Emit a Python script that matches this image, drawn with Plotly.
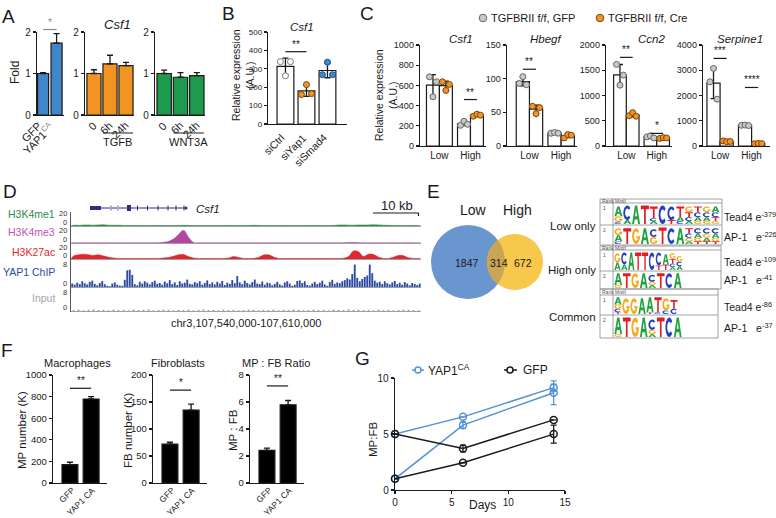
import numpy as np
import plotly.graph_objects as go

W, H = 776, 518
FONT = "Liberation Sans, Arial, Helvetica, sans-serif"
INK = "#1a1a1a"

# ======================= DATA =======================
# Panel A
a_gfp_labels = ["GFP", "YAP1<sup><span style='color:#8a8a8a'>CA</span></sup>"]
a_gfp_values = [1.0, 1.73]
a_gfp_err = [0.02, 0.23]
a_gfp_sig = 2.06
a_time_labels = ["0", "6h", "24h"]
a_tgfb_values = [1.0, 1.23, 1.19]
a_tgfb_err = [0.09, 0.21, 0.08]
a_wnt_values = [1.0, 0.91, 0.95]
a_wnt_err = [0.08, 0.11, 0.07]
a_ticks = [0, 1, 2]
a_groups = ["TGFB", "WNT3A"]

# Panel B
b_labels = ["siCtrl", "siYap1", "siSmad4"]
b_points = [[339, 262, 339], [160, 214, 165], [268, 336, 268]]
b_ticks = [0, 100, 200, 300, 400, 500]
b_sig = 393

# Panel C
c_groups = ["Low", "High"]
c_legend = ["TGFBRII f/f, GFP", "TGFBRII f/f, Cre"]
csf1_gfp = [[685, 487, 636], [205, 245, 215]]
csf1_cre = [[636, 550, 610], [295, 315, 305]]
hbegf_gfp = [[93, 103, 91], [19, 20, 19]]
hbegf_cre = [[59, 48, 57], [12, 17, 16]]
ccn2_gfp = [[1616, 1205, 1404], [180, 200, 160]]
ccn2_cre = [[600, 660, 590], [150, 165, 160]]
serp_gfp = [[2543, 3073, 1854], [820, 830, 810]]
serp_cre = [[200, 170, 180], [90, 100, 95]]
csf1_ticks = [0, 200, 400, 600, 800, 1000]
hbegf_ticks = [0, 50, 100, 150]
ccn2_ticks = [0, 500, 1000, 1500, 2000]
serp_ticks = [0, 1000, 2000, 3000, 4000]
csf1_sig = [(1, 460, "**")]
hbegf_sig = [(0, 114, "**")]
ccn2_sig = [(0, 1755, "**"), (1, 250, "*")]
serp_sig = [(0, 3470, "***"), (1, 2318, "****")]

# Panel D (coverage tracks, 70 kb window)
h3k4me1 = [1.2, 1.0, 1.4, 1.6, 1.2, 1.5, 1.8, 1.3, 1.0, 1.2,
           0.8, 0.7, 0.9, 0.8, 0.7, 0.6, 0.8, 0.9, 0.7, 0.8,
           0.7, 0.9, 1.0, 0.8, 0.7, 0.6, 0.7, 0.8, 0.6, 0.7,
           0.8, 0.9, 0.7, 0.6, 0.7, 0.8, 1.0, 0.9, 0.8, 0.7,
           0.6, 0.7, 0.8, 0.7, 0.6, 0.6, 0.7, 0.8, 0.9, 0.8,
           0.7, 0.6, 0.9, 1.4, 1.6, 1.3, 1.2, 1.5, 1.4, 1.6,
           1.8, 1.5, 1.2, 1.0, 0.8, 0.7, 0.6, 0.7, 0.8, 0.7]
h3k4me3 = [0.2, 0.2, 0.2, 0.3, 0.2, 0.2, 0.2, 0.2, 0.2, 0.2,
           0.2, 0.2, 0.2, 0.2, 0.2, 0.3, 0.3, 0.5, 1.0, 2.5,
           6.0, 13.0, 19.5, 9.0, 0.8, 0.3, 0.2, 0.2, 0.2, 0.2,
           0.2, 0.2, 0.2, 0.2, 0.2, 0.2, 0.2, 0.2, 0.2, 0.2,
           0.2, 0.2, 0.2, 0.2, 0.2, 0.2, 0.2, 0.2, 0.2, 0.2,
           0.2, 0.2, 0.2, 0.2, 0.3, 0.6, 0.8, 0.5, 0.2, 0.2,
           0.2, 0.2, 0.2, 0.2, 0.2, 0.2, 0.2, 0.2, 0.2, 0.2]
h3k27ac = [5, 7, 8, 7, 6, 7, 5, 3, 1.5, 1,
           0.8, 0.8, 1, 1, 0.8, 0.8, 1, 1, 1.5, 2.5,
           4.5, 7, 7.5, 4, 1.5, 1, 0.8, 0.8, 1, 1,
           1, 1.5, 4, 2.5, 1, 0.8, 1, 2.5, 6.5, 7,
           3.5, 1, 0.8, 0.8, 1, 0.8, 0.8, 1, 1, 0.8,
           0.8, 1, 1, 1, 1.2, 4, 13.5, 12, 4, 8,
           7.5, 3, 1, 1, 3, 6, 5.5, 2, 1, 0.8]
yap1_chip = [1.2, 0.8, 1.5, 1.0, 2.0, 1.3, 0.9, 1.8, 2.2, 1.1, 0.6, 1.4, 2.1, 1.0, 0.4, 0.3, 1.2, 1.6, 0.8, 0.5,
             0.4, 2.5, 5.8, 6.0, 4.2, 1.0, 0.6, 1.8, 1.2, 2.0, 1.5, 0.9, 1.7, 2.2, 1.1, 1.4, 0.8, 1.9, 1.3, 2.4,
             1.0, 1.6, 0.7, 2.0, 1.2, 1.5, 2.6, 1.1, 0.9, 1.7, 1.3, 2.0, 0.8, 1.4, 2.3, 1.0, 1.6, 0.9, 1.8, 1.2,
             2.1, 0.7, 1.5, 1.1, 2.4, 1.3, 3.8, 1.6, 1.0, 2.2, 1.4, 0.9, 1.7, 2.6, 1.2, 1.0, 1.9, 0.8, 1.5, 1.3,
             0.6, 1.1, 1.8, 0.9, 0.5, 1.6, 2.0, 1.2, 0.4, 0.8, 2.1, 2.3, 1.4, 2.0, 0.7, 0.5, 1.2, 1.8, 1.0, 1.5,
             2.2, 0.9, 0.4, 1.7, 2.5, 1.1, 1.6, 1.3, 2.0, 2.4, 3.0, 2.6, 4.5, 7.8, 3.2, 2.0, 2.8, 3.5, 4.0, 7.8,
             4.8, 2.2, 1.5, 1.8, 1.0, 2.0, 1.3, 0.9, 1.6, 2.1, 1.0, 1.5, 0.8, 1.7, 1.2, 0.6, 1.4, 1.0, 0.7, 1.2]
input_chip = [0.4, 0.6, 0.3, 0.5, 0.7, 0.4, 0.5, 0.3, 0.6, 0.4, 0.5, 0.3, 0.6, 0.4, 0.5, 0.7, 0.3, 0.4, 0.6, 0.5,
              0.3, 0.5, 0.4, 0.6, 0.3, 0.5, 0.7, 0.4, 0.5, 0.3, 0.6, 0.4, 0.5, 0.3, 0.4, 0.6, 0.5, 0.3, 0.5, 0.4,
              0.6, 0.3, 0.5, 0.4, 0.7, 0.5, 0.3, 0.4, 0.6, 0.4, 0.5, 0.3, 0.6, 0.5, 0.4, 0.7, 0.5, 0.6, 0.4, 0.5,
              0.3, 0.6, 0.4, 0.5, 0.3, 0.4, 0.6, 0.5, 0.4, 0.3]
track_names = ["H3K4me1", "H3K4me3", "H3K27ac", "YAP1 ChIP", "Input"]
gene_name = "Csf1"
gene_span_kb = [3.8, 23.0]
gene_thick_exons_kb = [[3.8, 6.0], [11.2, 12.0]]
gene_light_exons_kb = [8.0, 9.4]
gene_small_exons_kb = [13.3, 15.3, 17.4, 19.4, 21.0, 22.6]
locus_label = "chr3,107,540,000-107,610,000"

# Panel E
venn_sets = ["Low", "High"]
venn_counts = [1847, 314, 672]
motif_groups = ["Low only", "High only", "Common"]
motif_names = ["Tead4", "AP-1"]
motif_exponents = [[-379, -226], [-109, -41], [-86, -37]]
logo_low_tead4 = ["A.5 G.3 C.1", "C.75 A.2", "A.95", "T.95", "T.6 C.15 A.15", "C.95", "C.7 T.2",
                  "T.55 A.2 C.15", "G.3 T.25 C.2 A.15", "T.3 C.25 A.2 G.15", "G.3 C.25 A.2 G.15", "A.3 C.25 T.2 G.15"]
logo_low_ap1 = ["G.4 A.35 C.15", "T.9", "G.9", "A.9", "C.45 G.4", "T.95", "C.9", "A.9",
                "T.3 C.25 G.2 A.15", "C.3 A.25 G.2 T.15", "C.3 G.25 A.2 T.15", "C.3 A.25 G.2 T.15"]
logo_high_tead4 = ["G.5 A.4", "C.65 A.3", "A.95", "T.95", "T.95", "C.95", "C.7 T.25", "A.55 T.3",
                   "G.3 T.25 C.2 A.15", "G.3 C.25 A.2"]
logo_high_ap1 = ["A.75 G.2", "T.95", "G.95", "A.95", "C.45 G.2 A.2", "T.95", "C.95", "A.95"]
logo_common_tead4 = ["A.4 G.25 C.2 T.1", "G.9", "G.9", "A.9", "A.85 T.1", "T.85 C.1", "G.7 C.2", "T.5 C.3"]
logo_common_ap1 = ["A.8 G.15", "T.95", "G.95", "A.95", "C.5 G.2 A.15", "T.95", "C.95", "A.95"]

# Panel F
f_labels = ["GFP", "YAP1 CA"]
mp_values = [170, 778]
mp_err = [22, 22]
fb_values = [72, 135]
fb_err = [3.5, 11]
ratio_values = [2.41, 5.79]
ratio_err = [0.17, 0.32]
mp_ticks = [0, 200, 400, 600, 800, 1000]
fb_ticks = [0, 50, 100, 150, 200]
ratio_ticks = [0, 2, 4, 6, 8]
f_sig = [877, 172, 7.19]
f_sig_text = ["**", "*", "**"]
f_titles = ["Macrophages", "Fibroblasts", "MP : FB Ratio"]
f_ytitles = ["MP number (K)", "FB number (K)", "MP : FB"]

# Panel G
g_days = [0, 6, 14]
g_yap_a = [5.0, 6.53, 9.14]
g_yap_a_err = [None, None, 0.3]
g_yap_b = [1.0, 5.79, 8.69]
g_yap_b_err = [None, 0.28, 1.06]
g_gfp_a = [5.0, 3.71, 6.26]
g_gfp_a_err = [None, 0.3, None]
g_gfp_b = [1.0, 2.43, 4.99]
g_gfp_b_err = [None, None, 0.8]
g_xticks = [0, 5, 10, 15]
g_yticks = [0, 5, 10]
g_series = ["YAP1<sup>CA</sup>", "GFP"]

# ======================= HELPERS =======================
fig = go.Figure()
AX, lay, shapes, annos = {}, {}, [], []


def P(x):
    return x / W


def Q(y):
    return 1 - y / H


def add_axes(key, x0, x1, yt, yb, xr, yr):
    k = len(AX) + 1
    s = "" if k == 1 else str(k)
    base = dict(showgrid=False, zeroline=False, showline=False, ticks="", showticklabels=False,
                fixedrange=True, automargin=False)
    lay["xaxis" + s] = dict(base, domain=[P(x0), P(x1)], range=xr, anchor="y" + s)
    lay["yaxis" + s] = dict(base, domain=[Q(yb), Q(yt)], range=yr, anchor="x" + s)
    AX[key] = dict(x="x" + s, y="y" + s, xa=lay["xaxis" + s], ya=lay["yaxis" + s], g=(x0, x1, yt, yb, xr, yr))
    return AX[key]


def px_x(key, v):
    x0, x1, yt, yb, xr, yr = AX[key]["g"]
    return x0 + (v - xr[0]) / (xr[1] - xr[0]) * (x1 - x0)


def px_y(key, v):
    x0, x1, yt, yb, xr, yr = AX[key]["g"]
    return yb - (v - yr[0]) / (yr[1] - yr[0]) * (yb - yt)


def txt(x, y, s, size=11, color=INK, xa="center", ya="middle", angle=0):
    annos.append(dict(x=P(x), y=Q(y), xref="paper", yref="paper", text=s, showarrow=False,
                      font=dict(family=FONT, size=size, color=color), xanchor=xa, yanchor=ya,
                      textangle=angle, borderpad=0))


def line(x0, y0, x1, y1, color=INK, w=1.2):
    shapes.append(dict(type="line", xref="paper", yref="paper", x0=P(x0), y0=Q(y0), x1=P(x1), y1=Q(y1),
                       line=dict(color=color, width=w)))


def rect(x0, y0, x1, y1, fill="rgba(0,0,0,0)", lc=None, w=0):
    shapes.append(dict(type="rect", xref="paper", yref="paper", x0=P(x0), y0=Q(y1), x1=P(x1), y1=Q(y0),
                       fillcolor=fill, line=dict(color=lc or fill, width=w)))


def circle(cx, cy, r, fill, lc=None, w=0):
    shapes.append(dict(type="circle", xref="paper", yref="paper", x0=P(cx - r), x1=P(cx + r),
                       y0=Q(cy + r), y1=Q(cy - r), fillcolor=fill, line=dict(color=lc or fill, width=w)))


def poly(pts, fill):
    d = "M " + " L ".join("%.5f,%.5f" % (P(x), Q(y)) for x, y in pts) + " Z"
    shapes.append(dict(type="path", xref="paper", yref="paper", path=d, fillcolor=fill,
                       line=dict(width=0), layer="above"))


def style_y(key, ticks, size=10):
    AX[key]["ya"].update(showline=True, linecolor=INK, linewidth=1.3, ticks="outside", ticklen=3,
                         tickwidth=1.2, tickcolor=INK, tickmode="array", tickvals=ticks,
                         showticklabels=True, tickfont=dict(family=FONT, size=size, color=INK))


def style_x(key, vals, labels, size=10):
    AX[key]["xa"].update(showline=True, linecolor=INK, linewidth=1.3, tickmode="array", tickvals=vals,
                         ticktext=labels, showticklabels=True, tickangle=0,
                         tickfont=dict(family=FONT, size=size, color=INK))


def rot_labels(key, vals, labels, dx, dy, size=11):
    # category labels slanted at 45 degrees, ending just under each bar
    AX[key]["xa"].update(showline=True, linecolor=INK, linewidth=1.3)
    yb = AX[key]["g"][3]
    for v, lab in zip(vals, labels):
        txt(px_x(key, v) + dx, yb + dy, lab, size=size, xa="right", ya="top", angle=-45)


def bars(key, xs, ys, err, fill, width, upper_only=False, lw=1.2):
    e = dict(type="data", array=err, visible=True, color=INK, thickness=1.3, width=3)
    if upper_only:
        e["symmetric"] = False
        e["arrayminus"] = [0] * len(err)
    fig.add_trace(go.Bar(x=xs, y=ys, width=width, marker=dict(color=fill, line=dict(color=INK, width=lw)),
                         error_y=e, xaxis=AX[key]["x"], yaxis=AX[key]["y"], cliponaxis=False,
                         hoverinfo="skip"))


def dots(key, xs, ys, fill, edge):
    fig.add_trace(go.Scatter(x=xs, y=ys, mode="markers", cliponaxis=False, hoverinfo="skip",
                             marker=dict(size=6, color=fill, line=dict(color=edge, width=1)),
                             xaxis=AX[key]["x"], yaxis=AX[key]["y"]))


def sig(key, xa_, xb_, yv, label, color=INK, size=10):
    y = px_y(key, yv)
    line(px_x(key, xa_), y, px_x(key, xb_), y, color=color, w=1.2)
    txt((px_x(key, xa_) + px_x(key, xb_)) / 2, y - 1, label, size=size, color=color, ya="bottom")


# panel letters
for letter, (lx, ly) in zip("ABCDEFG", [(8, 16), (228, 14), (367, 14), (10, 192), (433, 192), (7, 350), (362, 358)]):
    txt(lx, ly, letter, size=19)

# ======================= PANEL A =======================
BLUE_A, ORANGE, GREEN = "#3f87c9", "#f39422", "#1d9a4b"
add_axes("A1", 37, 64, 32, 115, [-0.45, 1.55], [0, 2])
style_y("A1", a_ticks)
rot_labels("A1", [0, 1], a_gfp_labels, 2, 3, size=11)
bars("A1", [0, 1], a_gfp_values, a_gfp_err, BLUE_A, 0.82, upper_only=True)
sig("A1", 0, 1, a_gfp_sig, "*", color="#8a8a8a")
txt(15, 73, "Fold", size=12, angle=-90)

for key, x0, x1, vals, err, col, grp in [("A2", 85, 134, a_tgfb_values, a_tgfb_err, ORANGE, a_groups[0]),
                                         ("A3", 155, 205, a_wnt_values, a_wnt_err, GREEN, a_groups[1])]:
    add_axes(key, x0, x1, 32, 115, [-0.56, 2.5], [0, 2])
    style_y(key, a_ticks)
    rot_labels(key, [0, 1, 2], a_time_labels, 6, 3, size=11)
    bars(key, [0, 1, 2], vals, err, col, 0.88, upper_only=True)
    ua, ub = px_x(key, 1) - 7, px_x(key, 2) + 7
    line(ua, 133, ub, 133, w=1)
    txt((ua + ub) / 2, 142, grp, size=11)
txt(117, 24, "<i>Csf1</i>", size=13)

# ======================= PANEL B =======================
add_axes("B", 268, 347, 32, 124, [-0.83, 2.93], [0, 500])
style_y("B", b_ticks, size=8)
rot_labels("B", [0, 1, 2], b_labels, 3, 6, size=10.5)
b_means = [float(np.mean(p)) for p in b_points]
b_sd = [float(np.std(p, ddof=1)) for p in b_points]
bars("B", [0, 1, 2], b_means, b_sd, "white", 0.8)
offs = [-0.24, 0.0, 0.24]
for i, (pts, fc, ec) in enumerate(zip(b_points, ["white", ORANGE, "#3e8bd0"], ["#777", "#7a4510", "#1d4f80"])):
    dots("B", [i + o for o in offs], pts, fc, ec)
sig("B", 0, 1, b_sig, "**")
txt(302, 27, "<i>Csf1</i>", size=11.5)
txt(243, 75, "Relative expression<br>(A.U.)", size=10.5, angle=-90)

# ======================= PANEL C =======================
c_centers = [1.0, 2.0, 3.4, 4.4]
c_specs = [("C1", "Csf1", 420, 486, [0, 5.1], csf1_gfp, csf1_cre, csf1_ticks, csf1_sig, 461),
           ("C2", "Hbegf", 507, 577, [-0.2, 5.1], hbegf_gfp, hbegf_cre, hbegf_ticks, hbegf_sig, 546),
           ("C3", "Ccn2", 606, 672, [-0.1, 5.1], ccn2_gfp, ccn2_cre, ccn2_ticks, ccn2_sig, 651),
           ("C4", "Serpine1", 703, 770, [0.2, 5.3], serp_gfp, serp_cre, serp_ticks, serp_sig, 740)]
for key, gene, x0, x1, xr, gfp, cre, ticks, sigs, tx in c_specs:
    add_axes(key, x0, x1, 45, 146, xr, [0, ticks[-1]])
    style_y(key, ticks, size=9)
    style_x(key, [1.5, 3.9], c_groups, size=10)
    means, sds = [], []
    for gi in range(2):
        for grp in (gfp, cre):
            means.append(float(np.mean(grp[gi])))
            sds.append(float(np.std(grp[gi], ddof=1)))
    bars(key, c_centers, means, sds, "white", 1.0)
    for gi in range(2):
        dots(key, [c_centers[2 * gi] + o for o in [-0.27, 0.0, 0.27]], gfp[gi], "#c8c8c8", "#666")
        dots(key, [c_centers[2 * gi + 1] + o for o in [-0.27, 0.0, 0.27]], cre[gi], ORANGE, "#7a4510")
    for gi, yv, lab in sigs:
        sig(key, c_centers[2 * gi], c_centers[2 * gi + 1], yv, lab)
    txt(tx, 39, "<i>%s</i>" % gene, size=11.5)
txt(386, 95, "Relative expression<br>(A.U.)", size=10.5, angle=-90)
circle(483, 18, 3.8, "#c8c8c8", "#666", 1)
txt(490, 18, c_legend[0], size=11, xa="left")
circle(600, 18, 3.8, ORANGE, "#7a4510", 1)
txt(607, 18, c_legend[1], size=11, xa="left")

# ======================= PANEL D =======================
trk_specs = [("D1", h3k4me1, 1.0, [0, 20], 213, 226, "#2f8a4c", "#2f8a4c", 214, "area"),
             ("D2", h3k4me3, 1.0, [0, 20], 230, 243, "#b2479d", "#c253b2", 232, "area"),
             ("D3", h3k27ac, 1.0, [0, 20], 247, 259, "#e3262b", "#e3262b", 252, "area"),
             ("D4", yap1_chip, 0.5, [0, 8], 264, 287, "#2b4aa6", "#2b4aa6", 272, "bar"),
             ("D5", input_chip, 1.0, [0, 8], 292, 311, "#9a9a9a", "#a8a8a8", 298, "bar")]
for (key, vals, bw, yr, yt, yb, col, lcol, ly, kind), name in zip(trk_specs, track_names):
    add_axes(key, 71, 421, yt, yb, [0, 70], yr)
    AX[key]["xa"].update(showline=True, linecolor="#a0a0a0", linewidth=1)
    xs = [bw * i + bw / 2 for i in range(len(vals))]
    if kind == "area":
        fig.add_trace(go.Scatter(x=[0] + xs + [70], y=[0] + vals + [0], mode="lines", fill="tozeroy",
                                 fillcolor=col, line=dict(color=col, width=0.6, shape="spline"),
                                 hoverinfo="skip", xaxis=AX[key]["x"], yaxis=AX[key]["y"]))
    else:
        fig.add_trace(go.Bar(x=xs, y=vals, width=bw * (0.75 if bw < 1 else 0.35),
                             marker=dict(color=col, line=dict(width=0)), hoverinfo="skip",
                             xaxis=AX[key]["x"], yaxis=AX[key]["y"]))
    txt(56, ly, name, size=10.5, color=lcol, xa="right")
    # scale labels (top value and zero) beside the shared left edge
    txt(68, yt + 0.5, str(yr[1]), size=7.5, color="#333", xa="right")
    txt(68, yb - 3.5, str(yr[0]), size=7.5, color="#333", xa="right")
line(70.5, 212, 70.5, 312, color="#555", w=1)
# gene model
GENE = "#2b2f86"
gy = 208
line(px_x("D1", gene_span_kb[0]), gy, px_x("D1", gene_span_kb[1]), gy, color=GENE, w=1)
for a, b in gene_thick_exons_kb:
    rect(px_x("D1", a), gy - (2 if b - a > 1 else 3), px_x("D1", b), gy + (2 if b - a > 1 else 3), GENE)
for a in gene_light_exons_kb:
    rect(px_x("D1", a) - 1, gy - 2.5, px_x("D1", a) + 1, gy + 2.5, "#a7a9d6")
for a in gene_small_exons_kb:
    line(px_x("D1", a), gy - 2.5, px_x("D1", a), gy + 2.5, color=GENE, w=1)
circle(px_x("D1", gene_span_kb[1]), gy, 1.5, GENE)
txt(195, gy + 1, "<i>%s</i>" % gene_name, size=11.5, xa="left")
line(373, 213, 419, 213, w=1.2)
line(418.5, 213, 418.5, 216, w=1.2)
txt(397, 205, "10 kb", size=13)
txt(246, 323, locus_label, size=11)

# ======================= PANEL E =======================
c1x, c1y, r1 = 468, 262, 37
c2x, c2y, r2 = 515, 262, 28
circle(c1x, c1y, r1, "#6a96cf")
circle(c2x, c2y, r2, "#f8c84c")
d = c2x - c1x
aa = (r1 ** 2 - r2 ** 2 + d ** 2) / (2 * d)
hh = np.sqrt(r1 ** 2 - aa ** 2)
t1 = np.arctan2(hh, aa)
t2 = np.arctan2(hh, aa - d)
lens = [(c1x + r1 * np.cos(t), c1y - r1 * np.sin(t)) for t in np.linspace(-t1, t1, 30)]
lens += [(c2x + r2 * np.cos(t), c2y - r2 * np.sin(t)) for t in np.linspace(t2, 2 * np.pi - t2, 30)]
poly(lens, "#c9a653")
txt(473, 210, venn_sets[0], size=14)
txt(517, 210, venn_sets[1], size=14)
txt(467, 263, str(venn_counts[0]), size=10.5)
txt(499, 263, str(venn_counts[1]), size=10.5)
txt(523, 263, str(venn_counts[2]), size=10.5)


def _arc(cx, cy, rx, ry, a0, a1, n=14):
    t = np.radians(np.linspace(a0, a1, n))
    return [(cx + rx * np.cos(a), cy + ry * np.sin(a)) for a in t]


GLYPH = {
    "T": [(0, 1), (1, 1), (1, 0.8), (0.61, 0.8), (0.61, 0), (0.39, 0), (0.39, 0.8), (0, 0.8)],
    "A": [(0, 0), (0.36, 1), (0.64, 1), (1, 0), (0.76, 0), (0.68, 0.24), (0.5, 0.24), (0.5, 0.42),
          (0.62, 0.42), (0.5, 0.78), (0.38, 0.42), (0.5, 0.42), (0.5, 0.24), (0.32, 0.24), (0.24, 0)],
    "C": _arc(.5, .5, .5, .5, 40, 320) + _arc(.5, .5, .27, .29, 320, 40),
    "G": _arc(.5, .5, .5, .5, 40, 360) + [(0.55, 0.5), (0.55, 0.37)] + _arc(.5, .5, .27, .29, 330, 40),
}
LCOL = {"A": "#1fa33f", "C": "#2340c0", "G": "#f5a91c", "T": "#e21d24"}


def draw_logo(cols, x0, x1, ytop, ybot):
    n = len(cols)
    w = (x1 - x0) / n
    hgt = ybot - ytop
    for i, col in enumerate(cols):
        items = [(tok[0], float(tok[1:])) for tok in col.split()]
        base = ybot
        for letter, frac in reversed(items):
            h_ = frac * hgt
            gx0, gx1 = x0 + i * w + 0.05 * w, x0 + (i + 1) * w - 0.05 * w
            poly([(gx0 + u * (gx1 - gx0), base - v * h_) for u, v in GLYPH[letter]], LCOL[letter])
            base -= h_


tables = [(600, 722, 199, 203, 225, 245, 226, [216, 236]),
          (600, 721, 246, 250, 271, 289, 270, [261, 279]),
          (600, 718, 289, 295, 315, 338, 317, [306, 327])]
logos = [(logo_low_tead4, logo_low_ap1, 720, 720), (logo_high_tead4, logo_high_ap1, 683, 682),
         (logo_common_tead4, logo_common_ap1, 678, 682)]
TB = "#8c8c8c"
for gi, ((x0, x1, yt, yh, ym, yb, gy_, lys), (lg1, lg2, e1, e2)) in enumerate(zip(tables, logos)):
    rect(x0, yt, x1, yb, lc=TB, w=0.8)
    line(x0, yh, x1, yh, color=TB, w=0.8)
    line(x0, ym, x1, ym, color=TB, w=0.8)
    line(613, yt, 613, yb, color=TB, w=0.8)
    txt(601, (yt + yh) / 2, "Rank", size=5, color="#555", xa="left")
    txt(614, (yt + yh) / 2, "Motif", size=5, color="#555", xa="left")
    txt(602, yh + 5, "1", size=5, color="#555", xa="left")
    txt(602, ym + 5, "2", size=5, color="#555", xa="left")
    draw_logo(lg1, 614, e1, yh + 1.5, ym - 1)
    draw_logo(lg2, 614, e2, ym + 1.5, yb - 1)
    txt(597, gy_, motif_groups[gi], size=11.5, xa="right")
    txt(723, lys[0], "%s e<sup>%d</sup>" % (motif_names[0], motif_exponents[gi][0]), size=10.5, xa="left")
    txt(723, lys[1], "%s\u00a0\u00a0 e<sup>%d</sup>" % (motif_names[1], motif_exponents[gi][1]), size=10.5,
        xa="left")

# ======================= PANEL F =======================
f_specs = [("F1", 53, mp_values, mp_err, mp_ticks, 77, 22),
           ("F2", 153, fb_values, fb_err, fb_ticks, 178, 128),
           ("F3", 250, ratio_values, ratio_err, ratio_ticks, 276, 233)]
for i, (key, x0, vals, err, ticks, tx, ytx) in enumerate(f_specs):
    add_axes(key, x0, x0 + 54, 375, 483, [-0.8, 1.75], [0, ticks[-1]])
    style_y(key, ticks, size=9.5)
    rot_labels(key, [0, 1], f_labels, 8, 0.5, size=8.5)
    bars(key, [0, 1], vals, err, "#000000", 0.75, upper_only=True)
    sig(key, 0, 1, f_sig[i], f_sig_text[i])
    txt(tx, 363, f_titles[i], size=11)
    txt(ytx, 430, f_ytitles[i], size=11.5, angle=-90)

# ======================= PANEL G =======================
add_axes("G", 395, 565, 378, 490, [0, 15], [0, 10])
style_y("G", g_yticks, size=10)
AX["G"]["xa"].update(showline=True, linecolor=INK, linewidth=1.3, ticks="outside", ticklen=3, tickwidth=1.2,
                     tickcolor=INK, tickmode="array", tickvals=g_xticks, showticklabels=True,
                     tickfont=dict(family=FONT, size=10, color=INK))
GB, GK = "#5592d6", "#1a1a1a"
for ys, es, c in [(g_yap_a, g_yap_a_err, GB), (g_yap_b, g_yap_b_err, GB),
                  (g_gfp_a, g_gfp_a_err, GK), (g_gfp_b, g_gfp_b_err, GK)]:
    fig.add_trace(go.Scatter(x=g_days, y=ys, mode="lines+markers", cliponaxis=False, hoverinfo="skip",
                             line=dict(color=c, width=1.5),
                             marker=dict(symbol="circle-open", size=7, color=c, line=dict(width=1.5)),
                             error_y=dict(type="data", array=es, color=c, thickness=1.3, width=3),
                             xaxis=AX["G"]["x"], yaxis=AX["G"]["y"]))
txt(482, 505, "Days", size=12)
txt(373, 440, "MP:FB", size=11.5, angle=-90)
line(412, 370, 424, 370, color=GB, w=1.5)
circle(418, 370, 3, "white", GB, 1.5)
txt(427, 370, g_series[0], size=12, xa="left")
line(504, 370, 517, 370, color=GK, w=1.5)
circle(510, 370, 3, "white", GK, 1.5)
txt(522, 370, g_series[1], size=12, xa="left")

# ======================= LAYOUT =======================
fig.update_layout(template="none", width=W, height=H, margin=dict(l=0, r=0, t=0, b=0, pad=0),
                  showlegend=False, paper_bgcolor="white", plot_bgcolor="rgba(0,0,0,0)", barmode="overlay",
                  font=dict(family=FONT, color=INK), shapes=shapes, annotations=annos, **lay)
fig.write_html("out.html", config={"displayModeBar": False, "staticPlot": True},
               post_script="document.body.style.margin='0';document.body.style.padding='0';"
                           "document.documentElement.style.overflow='hidden';")
